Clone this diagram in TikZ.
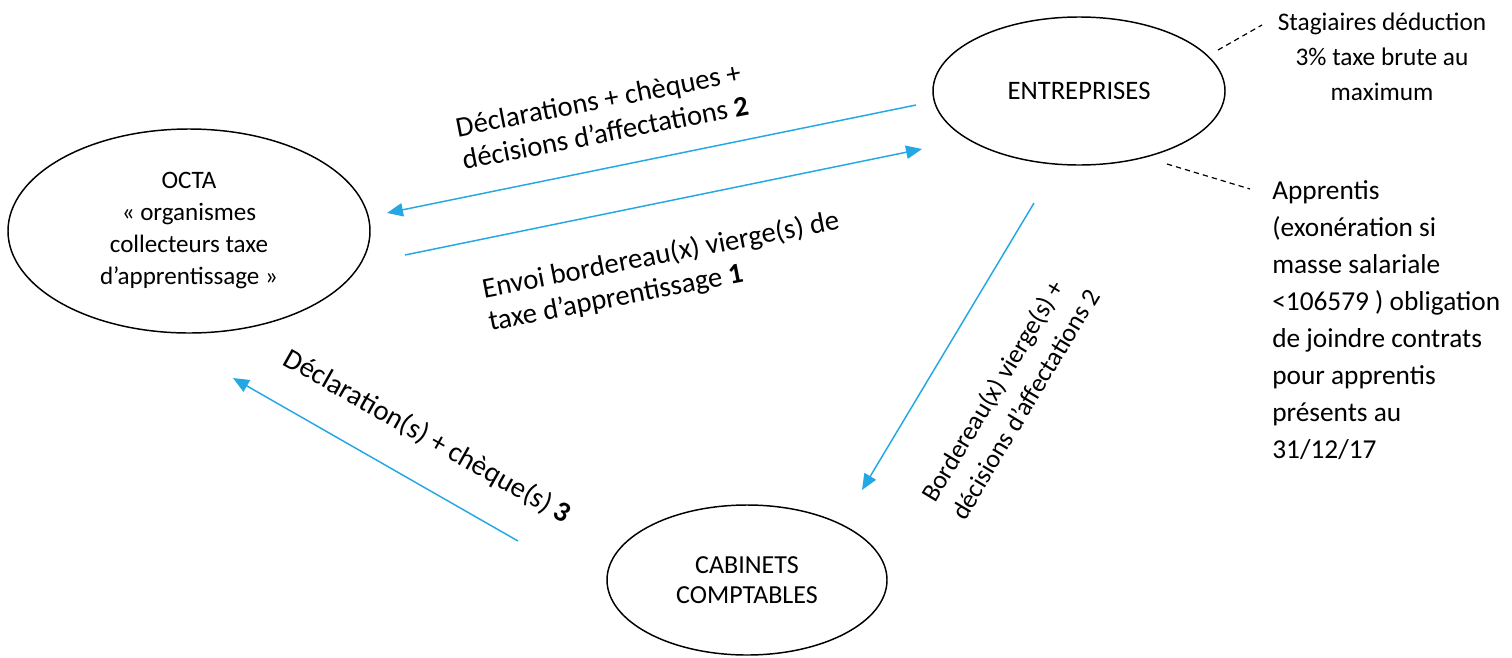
\documentclass[tikz,border=0pt]{standalone}
\usepackage{fontspec}
\setmainfont{Carlito}
\usetikzlibrary{shapes.geometric,arrows.meta}
\definecolor{bleuflux}{RGB}{35,168,228}

\begin{document}
\begin{tikzpicture}[x=0.75pt,y=0.75pt,yscale=-1,xscale=1,
  organisme/.style={ellipse,draw,line width=1.1pt,inner sep=0pt,align=center},
  flux/.style={draw=bleuflux,line width=1.1pt,-{Triangle[length=12pt,width=10pt]}},
  renvoi/.style={draw,line width=0.9pt,dash pattern=on 4pt off 3pt},
  etiquette/.style={inner sep=0pt,align=left,font=\fontsize{21.5}{25}\selectfont}]
\useasboundingbox (0,0) rectangle (1512,657);

%Ellipses
\node [organisme,minimum width=271.5pt,minimum height=153pt,font=\fontsize{18.8}{24}\selectfont] (octa) at (189,231) {OCTA\\« organismes\\collecteurs taxe\\d’apprentissage »};
\node [organisme,minimum width=219pt,minimum height=111pt,font=\fontsize{20}{23}\selectfont] (entreprises) at (1079,91) {ENTREPRISES};
\node [organisme,minimum width=210pt,minimum height=112.5pt,font=\fontsize{19.5}{22.5}\selectfont] (cabinets) at (747,580) {CABINETS\\COMPTABLES};

%Notes
\node [inner sep=0pt,align=center,font=\fontsize{19}{26.2}\selectfont] (stagiaires) at (1382,57) {Stagiaires déduction\\3\% taxe brute au\\maximum};
\node [inner sep=0pt,align=left,anchor=west,font=\fontsize{20.5}{27.8}\selectfont] (apprentis) at (1272,320) {Apprentis\\(exonération si\\masse salariale\\<106579 ) obligation\\de joindre contrats\\pour apprentis\\présents au\\31/12/17};

%Dashed Lines
\coordinate (s1) at (1218,50);
\coordinate (s2) at (1262,25);
\coordinate (p1) at (1167,164);
\coordinate (p2) at (1250,189);
\draw [renvoi] (s1) -- (s2);
\draw [renvoi] (p1) -- (p2);

%Straight Lines
\coordinate (a1) at (916,105);
\coordinate (b1) at (387,213);
\coordinate (a2) at (405,255);
\coordinate (b2) at (922,149);
\coordinate (a3) at (1034,203);
\coordinate (b3) at (862,490);
\coordinate (a4) at (518,541);
\coordinate (b4) at (233,378);
\draw [flux] (a1) -- (b1);
\draw [flux] (a2) -- (b2);
\draw [flux] (a3) -- (b3);
\draw [flux] (a4) -- (b4);

%Labels
\node [etiquette,rotate=11] (declarations) at (602,116) {Déclarations + chèques +\\décisions d’affectations \textbf{2}};
\node [etiquette,rotate=11] (envoi) at (664,272) {Envoi bordereau(x) vierge(s) de\\taxe d’apprentissage \textbf{1}};
\node [etiquette,rotate=59,font=\fontsize{19.5}{26}\selectfont] (bordereaux) at (1010,395) {Bordereau(x) vierge(s) +\\décisions d’affectations 2};
\node [etiquette,rotate=-29.5] (cheques) at (427,437) {Déclaration(s) + chèque(s) \textbf{3}};

\end{tikzpicture}
\end{document}
